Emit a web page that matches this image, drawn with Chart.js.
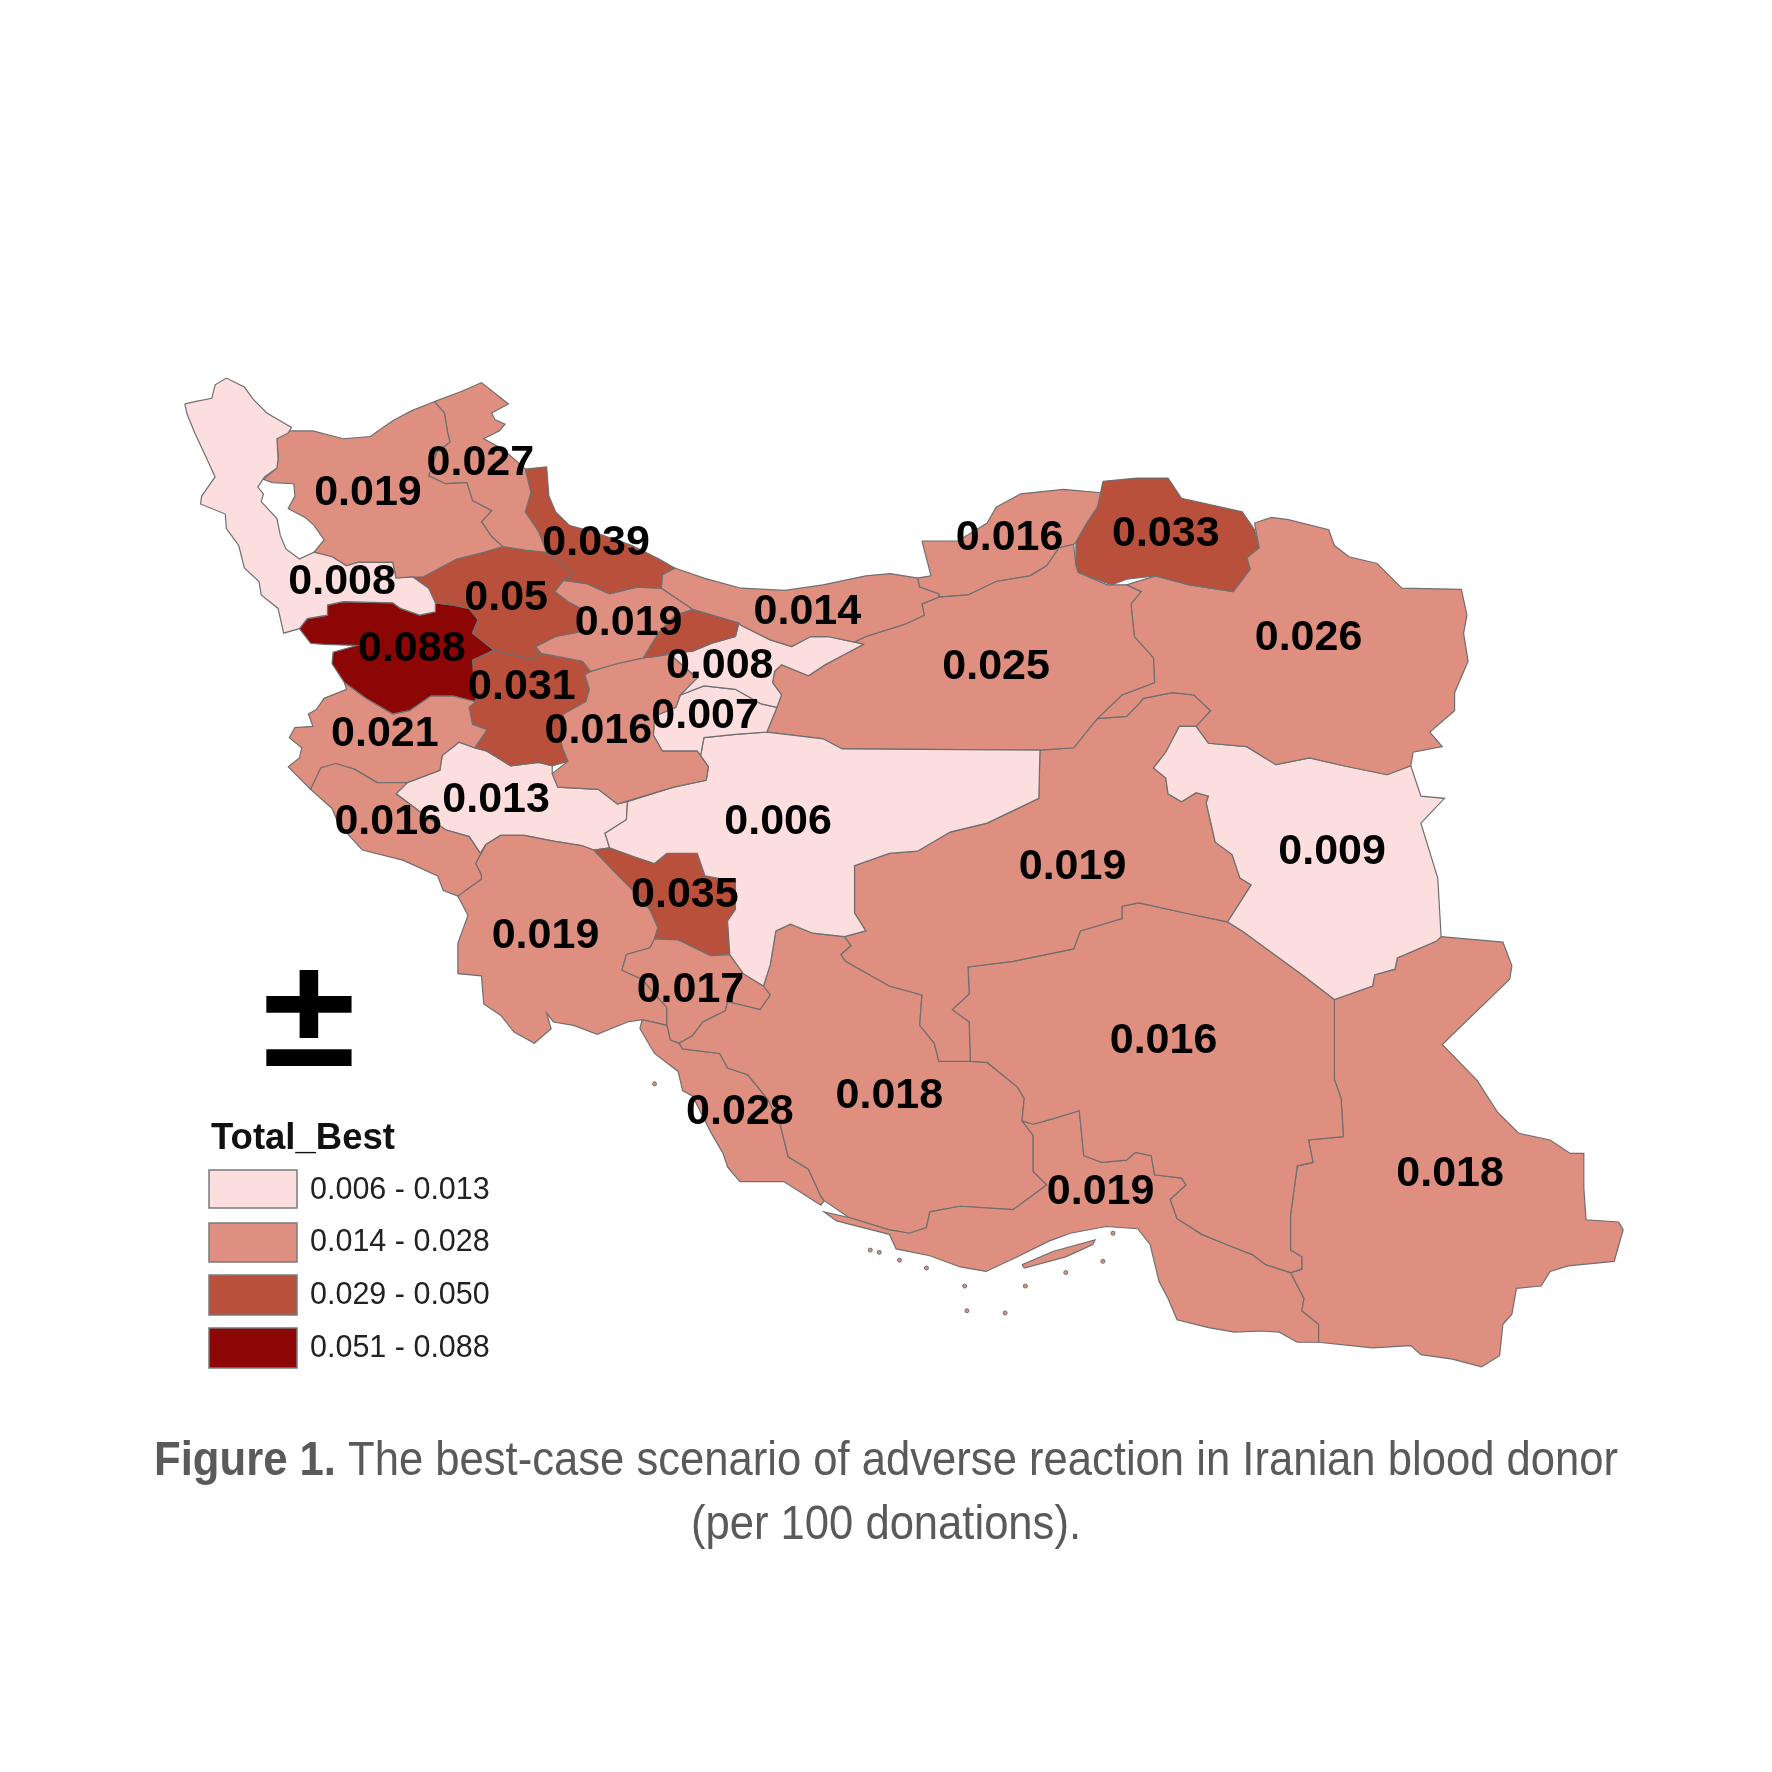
<!DOCTYPE html>
<html>
<head>
<meta charset="utf-8">
<title>Figure 1</title>
<script src="https://cdn.jsdelivr.net/npm/chart.js@4/dist/chart.umd.min.js"></script>
<style>
  html, body { margin: 0; background: #fff; }
  canvas { display: block; }
</style>
</head>
<body>
<canvas id="map" width="1772" height="1772"></canvas>
<script>
// province outlines
var westAzar = [[160,355],[169,353],[184,350],[187,338],[197,332],[213,340],[221,351],[233,363],[255,376],[252,381],[242,386],[243,404],[242,412],[231,420],[225,429],[230,435],[228,442],[242,457],[245,472],[250,484],[262,493],[275,487],[291,491],[304,499],[314,496],[345,496],[348,510],[363,509],[377,519],[383,532],[383,540],[369,543],[352,537],[345,532],[301,531],[287,534],[287,543],[269,546],[262,555],[248,559],[243,537],[228,525],[226,513],[213,501],[208,481],[197,466],[196,453],[174,444],[175,437],[187,420],[181,407],[169,381],[162,364]];
var eastAzar = [[253,379],[274,379],[301,386],[325,384],[345,370],[362,361],[382,353],[391,363],[394,381],[396,389],[384,398],[377,419],[392,426],[411,425],[416,441],[433,450],[424,460],[433,473],[443,482],[426,487],[402,493],[372,509],[363,509],[348,510],[345,496],[314,496],[304,499],[291,491],[275,487],[284,476],[275,463],[267,456],[252,448],[258,437],[257,426],[238,425],[230,422],[242,412],[243,404],[242,386]];
var ardabil = [[382,353],[406,344],[424,336],[448,355],[433,363],[436,369],[445,373],[440,379],[426,386],[443,395],[463,413],[468,434],[463,451],[475,469],[482,487],[463,485],[443,482],[433,473],[424,460],[433,450],[416,441],[411,425],[392,426],[377,419],[384,398],[396,389],[394,381],[391,363]];
var gilan = [[463,413],[482,411],[484,437],[490,451],[502,463],[524,469],[558,481],[582,493],[596,501],[585,507],[584,519],[562,518],[538,524],[518,515],[497,512],[506,506],[494,496],[482,487],[475,469],[463,451],[468,434]];
var zanjan = [[372,509],[402,493],[426,487],[443,482],[463,485],[482,487],[494,496],[506,506],[497,512],[489,522],[501,531],[514,538],[511,558],[490,562],[472,571],[477,577],[468,582],[446,577],[435,574],[416,559],[421,547],[413,537],[399,534],[383,532],[377,519],[363,509]];
var qazvin = [[489,522],[497,512],[518,515],[538,524],[562,518],[584,519],[612,538],[596,543],[582,558],[568,581],[545,586],[521,593],[514,584],[477,577],[472,571],[490,562],[511,558],[514,538],[501,531]];
var alborz = [[612,538],[629,543],[653,550],[650,562],[629,568],[612,575],[592,577],[578,580],[568,581],[582,558],[596,543]];
var mazandaran = [[596,501],[622,510],[655,519],[694,521],[728,516],[766,508],[788,506],[812,510],[814,518],[831,524],[831,527],[816,533],[818,543],[801,551],[766,562],[756,567],[732,562],[717,562],[700,571],[681,565],[655,552],[653,550],[629,543],[612,538],[584,519],[585,507]];
var tehran = [[653,550],[655,552],[681,565],[700,571],[717,562],[732,562],[756,567],[764,569],[747,578],[730,587],[715,597],[691,587],[685,593],[683,603],[691,614],[687,625],[673,622],[650,609],[622,606],[601,614],[616,599],[592,578],[592,577],[612,575],[629,568],[650,562]];
var markazi = [[521,593],[545,586],[568,581],[592,578],[616,599],[601,614],[597,625],[578,633],[577,650],[585,664],[616,664],[626,678],[624,690],[595,696],[555,708],[545,711],[528,698],[492,696],[487,684],[501,673],[496,661],[494,649],[497,631],[517,620],[520,609],[516,596]];
var qom = [[578,633],[597,625],[601,614],[622,606],[650,609],[673,622],[687,625],[678,647],[650,649],[622,652],[619,668],[616,664],[585,664],[577,650]];
var isfahan = [[554,709],[595,696],[624,690],[626,678],[619,668],[622,652],[650,649],[678,647],[728,653],[745,662],[921,663],[920,706],[874,728],[841,736],[812,753],[787,755],[756,766],[756,808],[766,824],[747,829],[719,826],[699,818],[686,824],[681,854],[675,873],[657,862],[645,845],[643,815],[650,805],[650,780],[623,775],[616,755],[589,755],[578,764],[560,758],[538,750],[534,737],[553,725]];
var semnan = [[764,569],[756,567],[766,562],[801,551],[818,543],[816,533],[831,527],[857,525],[882,513],[912,508],[927,499],[938,483],[951,480],[953,499],[955,505],[981,516],[998,516],[1011,522],[1002,533],[1005,562],[1022,581],[1023,603],[994,614],[972,635],[951,661],[921,663],[745,662],[728,653],[678,647],[687,625],[691,614],[683,603],[685,593],[691,587],[715,597],[730,587],[747,578]];
var golestan = [[816,477],[848,477],[874,461],[882,447],[904,435],[942,431],[975,434],[972,447],[962,462],[953,478],[951,480],[938,483],[927,499],[912,508],[882,513],[857,525],[831,527],[831,524],[814,518],[812,510],[824,508],[822,500]];
var northKhorasan = [[977,424],[1007,421],[1035,421],[1047,439],[1101,451],[1112,467],[1116,483],[1105,492],[1108,502],[1093,522],[1054,516],[1024,508],[998,511],[985,516],[955,505],[953,497],[953,478],[962,462],[972,447],[975,434]];
var razavi = [[1112,461],[1127,456],[1142,458],[1178,467],[1183,481],[1196,491],[1221,497],[1243,519],[1296,520],[1301,543],[1298,559],[1302,584],[1290,612],[1290,628],[1268,647],[1279,660],[1253,665],[1251,677],[1230,685],[1191,677],[1161,670],[1131,676],[1105,660],[1071,657],[1060,642],[1073,628],[1058,614],[1039,612],[1013,617],[1009,622],[998,633],[972,635],[994,614],[1023,603],[1022,581],[1005,562],[1002,533],[1011,522],[998,516],[1024,508],[1054,516],[1093,522],[1108,502],[1105,492],[1116,483]];
var southKhorasan = [[1045,642],[1060,642],[1071,657],[1105,660],[1131,676],[1161,670],[1191,677],[1230,685],[1251,677],[1260,704],[1281,706],[1260,728],[1275,777],[1278,829],[1274,833],[1239,848],[1237,858],[1219,863],[1217,873],[1183,885],[1157,865],[1101,824],[1088,816],[1109,783],[1099,777],[1092,756],[1077,745],[1069,710],[1071,704],[1060,701],[1047,709],[1035,702],[1033,688],[1022,679],[1033,665]];
var yazd = [[921,663],[951,661],[972,635],[998,633],[1009,622],[1013,617],[1039,612],[1058,614],[1073,628],[1060,642],[1045,642],[1033,665],[1022,679],[1033,688],[1035,702],[1047,709],[1060,701],[1071,704],[1069,710],[1077,745],[1092,756],[1099,777],[1109,783],[1088,816],[1050,808],[1009,799],[994,802],[994,813],[957,824],[951,840],[897,851],[857,856],[858,880],[843,894],[858,905],[859,940],[831,940],[827,924],[814,908],[816,881],[787,873],[748,851],[744,845],[753,837],[747,829],[766,824],[756,808],[756,766],[787,755],[812,753],[841,736],[874,728],[920,706]];
var kerman = [[857,856],[897,851],[951,840],[957,824],[994,813],[994,802],[1009,799],[1050,808],[1088,816],[1101,824],[1157,865],[1183,885],[1183,956],[1189,973],[1191,1007],[1160,1010],[1164,1030],[1150,1033],[1144,1077],[1144,1108],[1154,1114],[1154,1125],[1144,1128],[1122,1121],[1110,1112],[1087,1103],[1065,1094],[1043,1080],[1037,1063],[1051,1050],[1047,1044],[1023,1041],[1020,1024],[1006,1021],[998,1028],[976,1030],[960,1024],[956,984],[933,991],[915,996],[905,993],[907,973],[901,963],[885,950],[874,941],[859,940],[858,905],[843,894],[858,880]];
var sistan = [[1183,885],[1217,873],[1219,863],[1237,858],[1239,848],[1274,833],[1278,829],[1333,834],[1341,855],[1339,867],[1279,925],[1310,957],[1328,985],[1347,1004],[1375,1010],[1393,1022],[1405,1022],[1405,1053],[1407,1081],[1436,1083],[1440,1090],[1432,1118],[1391,1122],[1375,1127],[1367,1140],[1345,1142],[1341,1165],[1333,1174],[1330,1202],[1314,1212],[1288,1205],[1260,1201],[1251,1193],[1217,1195],[1169,1190],[1169,1174],[1154,1162],[1156,1151],[1144,1128],[1154,1125],[1154,1114],[1144,1108],[1144,1077],[1150,1033],[1164,1030],[1160,1010],[1191,1007],[1189,973],[1183,956]];
var hormozgan = [[905,993],[915,996],[933,991],[956,984],[960,1024],[976,1030],[998,1028],[1006,1021],[1020,1024],[1023,1041],[1047,1044],[1051,1050],[1037,1063],[1043,1080],[1065,1094],[1087,1103],[1110,1112],[1122,1121],[1144,1128],[1156,1151],[1154,1162],[1169,1174],[1169,1190],[1150,1190],[1134,1181],[1118,1180],[1094,1181],[1071,1177],[1043,1170],[1035,1151],[1027,1136],[1019,1103],[1008,1089],[980,1087],[948,1093],[929,1100],[901,1114],[873,1127],[850,1123],[823,1113],[793,1107],[787,1094],[740,1082],[729,1074],[751,1079],[787,1090],[805,1093],[820,1088],[823,1074],[850,1069],[897,1072],[915,1059],[927,1050],[915,1038],[915,1006]];
var fars = [[859,940],[874,941],[885,950],[901,963],[907,973],[905,993],[915,1006],[915,1038],[927,1050],[915,1059],[897,1072],[850,1069],[823,1074],[820,1088],[805,1093],[787,1090],[751,1079],[729,1064],[726,1060],[715,1036],[697,1025],[690,997],[679,974],[661,952],[643,946],[636,933],[603,929],[600,924],[612,917],[621,905],[641,895],[643,887],[672,894],[681,881],[675,873],[681,854],[686,824],[699,818],[719,826],[747,829],[753,837],[744,845],[748,851],[787,873],[816,881],[814,908],[827,924],[831,940]];
var bushehr = [[567,903],[589,908],[592,921],[600,924],[603,929],[636,933],[643,946],[661,952],[679,974],[690,997],[697,1025],[715,1036],[726,1060],[729,1064],[726,1068],[693,1047],[654,1047],[643,1034],[639,1022],[628,1003],[612,971],[603,966],[599,949],[578,933],[565,911]];
var kohgiluyeh = [[553,845],[574,839],[578,831],[599,832],[628,846],[645,845],[657,862],[675,873],[681,881],[672,894],[643,887],[641,895],[621,905],[612,917],[600,924],[592,921],[589,908],[589,892],[578,880],[567,867],[549,859]];
var chaharmahal = [[524,752],[538,750],[560,758],[578,764],[589,755],[616,755],[623,775],[650,780],[650,805],[643,815],[645,845],[628,846],[599,832],[578,831],[581,821],[574,805],[556,785],[542,771]];
var khuzestan = [[428,747],[441,739],[462,739],[488,744],[513,748],[524,752],[542,771],[556,785],[574,805],[581,821],[578,831],[574,839],[553,845],[549,859],[567,867],[578,880],[589,892],[589,908],[567,903],[554,905],[527,916],[506,908],[488,905],[482,897],[486,911],[471,924],[453,914],[441,899],[426,889],[424,864],[403,862],[403,835],[412,810],[403,793],[424,778],[424,774],[419,764]];
var ilam = [[281,679],[294,675],[311,680],[331,692],[358,692],[348,702],[372,720],[392,734],[413,740],[423,755],[428,747],[419,764],[424,774],[424,778],[403,793],[390,788],[385,775],[354,761],[318,752],[297,729],[291,715],[272,698]];
var kermanshah = [[302,603],[304,609],[284,617],[277,627],[270,631],[274,642],[258,643],[253,652],[264,661],[262,670],[252,678],[272,698],[281,679],[294,675],[311,680],[331,692],[358,692],[387,681],[389,668],[404,656],[418,661],[429,645],[416,640],[413,625],[419,620],[399,615],[379,615],[360,628],[345,631],[321,617]];
var kurdistan = [[287,534],[301,531],[345,532],[352,537],[369,543],[383,540],[383,532],[399,534],[413,537],[421,547],[416,559],[435,574],[416,583],[419,620],[399,615],[379,615],[360,628],[345,631],[321,617],[302,603],[291,586],[292,576],[313,570],[284,569],[272,568],[262,555],[269,546],[287,543]];
var hamedan = [[435,574],[446,577],[468,582],[477,577],[514,584],[521,593],[516,596],[520,609],[517,620],[497,631],[494,649],[496,661],[501,673],[487,677],[475,674],[450,677],[429,664],[418,661],[429,645],[416,640],[413,625],[419,620],[416,583]];
var lorestan = [[348,702],[358,692],[387,681],[389,668],[404,656],[418,661],[429,664],[450,677],[475,674],[487,677],[487,684],[492,696],[528,698],[545,711],[554,709],[553,725],[534,737],[538,750],[524,752],[513,748],[488,744],[462,739],[441,739],[428,747],[423,755],[413,740],[392,734],[372,720]];
var qeshm = [[905,1121],[933,1109],[970,1099],[968,1103],[944,1114],[907,1124]];

var regions = [westAzar, eastAzar, ardabil, gilan, zanjan, qazvin, alborz, mazandaran, tehran, markazi, qom, isfahan, semnan, golestan, northKhorasan, razavi, southKhorasan, yazd, kerman, sistan, hormozgan, fars, bushehr, kohgiluyeh, chaharmahal, khuzestan, ilam, kermanshah, kurdistan, hamedan, lorestan, qeshm];
var regionValues = [0.008, 0.019, 0.027, 0.039, 0.05, 0.019, 0.03, 0.014, 0.008, 0.016, 0.007, 0.006, 0.025, 0.016, 0.033, 0.026, 0.009, 0.019, 0.016, 0.018, 0.019, 0.018, 0.028, 0.017, 0.035, 0.019, 0.016, 0.021, 0.088, 0.031, 0.013, 0.019];

// small islands in the gulf
var islandX = [578, 770, 778, 796, 820, 854, 856, 890, 908, 986, 977, 944];
var islandY = [960, 1108, 1110, 1117, 1124, 1140, 1162, 1164, 1140, 1093, 1118, 1128];

var labelText = ['0.019','0.027','0.039','0.008','0.05','0.019','0.014','0.088','0.008','0.031','0.007','0.016','0.021','0.013','0.016','0.006','0.016','0.033','0.026','0.025','0.019','0.009','0.035','0.019','0.017','0.016','0.018','0.028','0.019','0.018'];
var labelX = [323,423,526,300,446,555,714,362,636,460,623,528,338,437,341,688,894,1033,1160,882,950,1181,605,481,610,1031,787,654,975,1286];
var labelY = [434,408,479,514,528,550,540,573,588,607,633,646,649,708,727,727,474,471,563,589,767,754,792,829,877,922,971,985,1056,1040];

var legendTitle = 'Total_Best';
var legendLabels = ['0.006 - 0.013', '0.014 - 0.028', '0.029 - 0.050', '0.051 - 0.088'];
var classTops = [0.013, 0.028, 0.05, 0.088];
var classColors = ['#fcdede', '#de8f80', '#b8503b', '#8c0606'];

function colorFor(v) {
  for (var i = 0; i < classTops.length; i++) {
    if (v <= classTops[i]) return classColors[i];
  }
  return classColors[classColors.length - 1];
}

var datasets = regions.map(function (shape, i) {
  var pts = shape.map(function (p) { return { x: p[0], y: p[1] }; });
  pts.push(pts[0]);
  return {
    data: pts,
    showLine: true,
    fill: 'shape',
    tension: 0,
    pointRadius: 0,
    borderWidth: 1.2,
    borderColor: '#6f6f6f',
    backgroundColor: colorFor(regionValues[i])
  };
});
datasets.push({
  data: islandX.map(function (x, i) { return { x: x, y: islandY[i] }; }),
  showLine: false,
  pointRadius: 2,
  pointBorderWidth: 1,
  pointBorderColor: '#6f6f6f',
  pointBackgroundColor: classColors[1]
});

var mapText = {
  id: 'mapText',
  afterDatasetsDraw: function (chart) {
    var ctx = chart.ctx, sx = chart.scales.x, sy = chart.scales.y;
    ctx.save();
    ctx.textBaseline = 'middle';
    ctx.textAlign = 'center';
    ctx.fillStyle = '#000';
    ctx.font = 'bold 43px "Liberation Sans"';
    labelText.forEach(function (t, i) {
      ctx.fillText(t, sx.getPixelForValue(labelX[i]), sy.getPixelForValue(labelY[i]));
    });

    // north arrow, glyph flattened a bit
    ctx.save();
    ctx.translate(309, 1066);
    ctx.scale(1, 0.91);
    ctx.font = 'bold 170px "Liberation Sans"';
    ctx.textBaseline = 'alphabetic';
    ctx.fillText('±', 0, 0);
    ctx.restore();

    // legend
    ctx.textAlign = 'left';
    ctx.textBaseline = 'alphabetic';
    ctx.font = 'bold 36.5px "Liberation Sans"';
    ctx.fillStyle = '#111';
    ctx.fillText(legendTitle, 211, 1149);
    var swatchTop = [1170, 1223, 1275, 1328];
    var swatchH = [38, 39, 40, 40];
    var textY = [1191, 1243, 1296, 1349];
    ctx.font = '30.5px "Liberation Sans"';
    ctx.textBaseline = 'middle';
    legendLabels.forEach(function (t, i) {
      ctx.fillStyle = classColors[i];
      ctx.strokeStyle = '#7a7a7a';
      ctx.lineWidth = 1.5;
      ctx.fillRect(209, swatchTop[i], 88, swatchH[i]);
      ctx.strokeRect(209, swatchTop[i], 88, swatchH[i]);
      ctx.fillStyle = '#222';
      ctx.fillText(t, 310, textY[i]);
    });

    // caption, squeezed to the width of the original
    ctx.textBaseline = 'alphabetic';
    ctx.fillStyle = '#5a5a5a';
    ctx.font = 'bold 48px "Liberation Sans"';
    ctx.fillText('Figure 1.', 154, 1475, 182);
    ctx.font = '48px "Liberation Sans"';
    ctx.fillText('The best-case scenario of adverse reaction in Iranian blood donor', 348, 1475, 1270);
    ctx.fillText('(per 100 donations).', 691, 1539, 390);
    ctx.restore();
  }
};

new Chart(document.getElementById('map'), {
  type: 'scatter',
  data: { datasets: datasets },
  options: {
    responsive: false,
    animation: false,
    devicePixelRatio: 1,
    layout: { padding: 0 },
    scales: {
      x: { type: 'linear', display: false, min: 0, max: 1568 },
      y: { type: 'linear', display: false, min: 0, max: 1568, reverse: true }
    },
    plugins: {
      legend: { display: false },
      tooltip: { enabled: false },
      title: { display: false }
    }
  },
  plugins: [mapText]
});
</script>
</body>
</html>
